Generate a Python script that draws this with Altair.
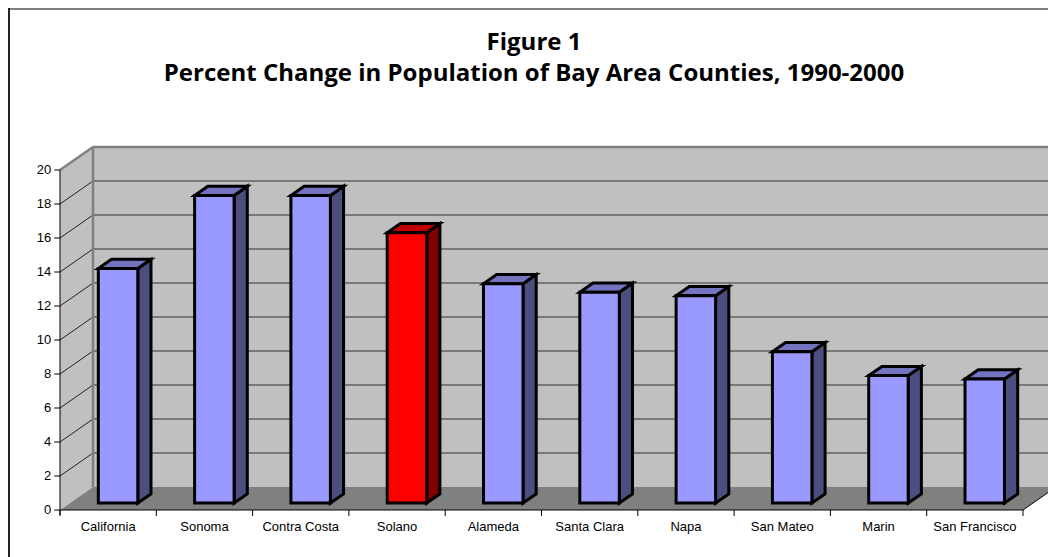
import altair as alt
import pandas as pd

# ---- data -------------------------------------------------------------
counties = ["California", "Sonoma", "Contra Costa", "Solano", "Alameda",
            "Santa Clara", "Napa", "San Mateo", "Marin", "San Francisco"]
pct_change = [13.8, 18.1, 18.1, 15.9, 12.9, 12.4, 12.2, 8.9, 7.5, 7.3]
highlighted = "Solano"
y_ticks = [0, 2, 4, 6, 8, 10, 12, 14, 16, 18, 20]

title_main = "Figure 1"
title_sub = "Percent Change in Population of Bay Area Counties, 1990-2000"

# ---- layout of the pseudo-3D box (in scale units) ------------------------
W, H = 1048, 557
CAT_PX = 96.3          # pixels per category slot
VAL_PX = 17.0          # pixels per percentage point
ORIGIN_X, ORIGIN_Y = 60, 510   # pixel position of the front floor corner
N = len(counties)
YMAX = 20

DEPTH_X = 33 / CAT_PX   # back wall shift to the right
DEPTH_Y = 23 / VAL_PX   # back wall shift upward
BAR_FRONT, BAR_BACK = 0.3, 0.7   # bar depth inside the floor
BAR_HALF = 0.205

x_dom = [-ORIGIN_X / CAT_PX, (W - ORIGIN_X) / CAT_PX]
y_dom = [(ORIGIN_Y - H) / VAL_PX, ORIGIN_Y / VAL_PX]
xs = alt.Scale(domain=x_dom, nice=False, zero=False)
ys = alt.Scale(domain=y_dom, nice=False, zero=False)

def X(f, **kw):
    return alt.X(f, type="quantitative", scale=xs, axis=None, **kw)

def Y(f, **kw):
    return alt.Y(f, type="quantitative", scale=ys, axis=None, **kw)

WALL = "#C0C0C0"
FLOOR = "#808080"
EDGE = "#808080"

# ---- walls and floor ---------------------------------------------------
back_wall = alt.Chart(pd.DataFrame({
    "x": [DEPTH_X], "x2": [N + DEPTH_X], "y": [DEPTH_Y], "y2": [YMAX + DEPTH_Y]
})).mark_rect(fill=WALL).encode(X("x"), x2="x2", y=Y("y"), y2="y2")

side_wall = alt.Chart(pd.DataFrame({
    "x": [0, DEPTH_X], "y": [0, DEPTH_Y], "y2": [YMAX, YMAX + DEPTH_Y]
})).mark_area(fill=WALL, orient="vertical").encode(X("x"), y=Y("y"), y2="y2")

floor = alt.Chart(pd.DataFrame({
    "y": [0, DEPTH_Y], "x": [0, DEPTH_X], "x2": [N, N + DEPTH_X]
})).mark_area(fill=FLOOR, orient="horizontal").encode(Y("y"), x=X("x"), x2="x2")

grid_vals = [v for v in y_ticks if v > 0]
grid_back = alt.Chart(pd.DataFrame({
    "x": [DEPTH_X] * len(grid_vals), "x2": [N + DEPTH_X] * len(grid_vals),
    "y": [v + DEPTH_Y for v in grid_vals]
})).mark_rule(color="#333333", strokeWidth=1.2).encode(X("x"), x2="x2", y=Y("y"))

grid_side = alt.Chart(pd.DataFrame({
    "x": [0] * len(grid_vals), "x2": [DEPTH_X] * len(grid_vals),
    "y": grid_vals, "y2": [v + DEPTH_Y for v in grid_vals]
})).mark_rule(color="#222222", strokeWidth=1).encode(X("x"), x2="x2", y=Y("y"), y2="y2")

# grey wall edges: back-left vertical, top of back wall, top of side wall
edges = alt.Chart(pd.DataFrame({
    "x": [DEPTH_X, DEPTH_X, 0],
    "x2": [DEPTH_X, N + DEPTH_X, DEPTH_X],
    "y": [DEPTH_Y, YMAX + DEPTH_Y, YMAX],
    "y2": [YMAX + DEPTH_Y, YMAX + DEPTH_Y, YMAX + DEPTH_Y],
})).mark_rule(color=EDGE, strokeWidth=2.5).encode(X("x"), x2="x2", y=Y("y"), y2="y2")

floor_edge = alt.Chart(pd.DataFrame({
    "x": [N], "x2": [N + DEPTH_X], "y": [0], "y2": [DEPTH_Y]
})).mark_rule(color="#000000", strokeWidth=1).encode(X("x"), x2="x2", y=Y("y"), y2="y2")

# ---- bars ----------------------------------------------------------------
fx, fy = BAR_FRONT * DEPTH_X, BAR_FRONT * DEPTH_Y
bx, by = BAR_BACK * DEPTH_X, BAR_BACK * DEPTH_Y
dbx = bx - fx

front_rows, side_rows, top_rows = [], [], []
for i, (name, v) in enumerate(zip(counties, pct_change)):
    hot = name == highlighted
    c_front = "#FF0000" if hot else "#9999FF"
    c_side = "#800000" if hot else "#4D4D80"
    c_top = "#C00000" if hot else "#7373BF"
    left = i + 0.5 + fx - BAR_HALF
    right = i + 0.5 + fx + BAR_HALF
    front_rows.append({"county": name, "x": left, "x2": right,
                       "y": fy, "y2": v + fy, "fill": c_front})
    side_rows += [
        {"county": name, "x": right, "y": fy, "y2": v + fy, "fill": c_side},
        {"county": name, "x": right + dbx, "y": by, "y2": v + by, "fill": c_side},
    ]
    top_rows += [
        {"county": name, "y": v + fy, "x": left, "x2": right, "fill": c_top},
        {"county": name, "y": v + by, "x": left + dbx, "x2": right + dbx, "fill": c_top},
    ]

bar_style = dict(stroke="black", strokeWidth=3, strokeJoin="miter")

bar_side = alt.Chart(pd.DataFrame(side_rows)).mark_area(
    orient="vertical", **bar_style
).encode(X("x"), y=Y("y"), y2="y2",
         fill=alt.Fill("fill:N", scale=None), detail="county:N")

bar_top = alt.Chart(pd.DataFrame(top_rows)).mark_area(
    orient="horizontal", **bar_style
).encode(Y("y"), x=X("x"), x2="x2",
         fill=alt.Fill("fill:N", scale=None), detail="county:N")

bar_front = alt.Chart(pd.DataFrame(front_rows)).mark_rect(**bar_style).encode(
    X("x"), x2="x2", y=Y("y"), y2="y2", fill=alt.Fill("fill:N", scale=None)
)

# ---- axes ----------------------------------------------------------------
axis_lines = alt.Chart(pd.DataFrame({
    "x": [0, 0], "x2": [0, N], "y": [-0.3, 0], "y2": [YMAX, 0]
})).mark_rule(color="black", strokeWidth=1).encode(X("x"), x2="x2", y=Y("y"), y2="y2")

y_tick_marks = alt.Chart(pd.DataFrame({
    "x": [-0.06] * len(y_ticks), "x2": [0] * len(y_ticks), "y": y_ticks
})).mark_rule(color="black", strokeWidth=1).encode(X("x"), x2="x2", y=Y("y"))

x_tick_marks = alt.Chart(pd.DataFrame({
    "x": list(range(N + 1)), "y": [0] * (N + 1), "y2": [-0.35] * (N + 1)
})).mark_rule(color="black", strokeWidth=1).encode(X("x"), y=Y("y"), y2="y2")

y_labels = alt.Chart(pd.DataFrame({"v": y_ticks, "x": [-0.09] * len(y_ticks)})).mark_text(
    align="right", baseline="middle", font="Liberation Sans", fontSize=13, color="black"
).encode(X("x"), y=Y("v"), text="v:Q")

x_labels = alt.Chart(pd.DataFrame({
    "county": counties, "x": [i + 0.5 for i in range(N)]
})).mark_text(
    align="center", baseline="middle", font="Liberation Sans", fontSize=13, color="black"
).encode(X("x"), y=alt.value(527), text="county:N")

# ---- title and frame ----------------------------------------------------
title_style = dict(align="center", baseline="alphabetic", font="Open Sans",
                   fontWeight="bold", fontSize=24, color="black")
title_1 = alt.Chart(pd.DataFrame({"t": [title_main]})).mark_text(**title_style).encode(
    x=alt.value(534), y=alt.value(50), text="t:N")
title_2 = alt.Chart(pd.DataFrame({"t": [title_sub]})).mark_text(**title_style).encode(
    x=alt.value(534), y=alt.value(81), text="t:N")

frame_top = alt.Chart(pd.DataFrame({"k": [0]})).mark_rule(
    color="#808080", strokeWidth=2
).encode(x=alt.value(8), x2=alt.value(W + 10), y=alt.value(9))
frame_left = alt.Chart(pd.DataFrame({"k": [0]})).mark_rule(
    color="#222222", strokeWidth=2
).encode(x=alt.value(9), y=alt.value(8), y2=alt.value(H + 10))

chart = alt.layer(
    back_wall, side_wall, floor, grid_back, grid_side, edges, floor_edge,
    bar_side, bar_top, bar_front,
    axis_lines, y_tick_marks, x_tick_marks, y_labels, x_labels,
    title_1, title_2, frame_top, frame_left,
).properties(
    width=W, height=H, autosize=alt.AutoSizeParams(type="none"), padding=0,
    background="white",
).configure_view(stroke=None)

chart.save("out.html", embed_options={"renderer": "svg", "actions": False})
